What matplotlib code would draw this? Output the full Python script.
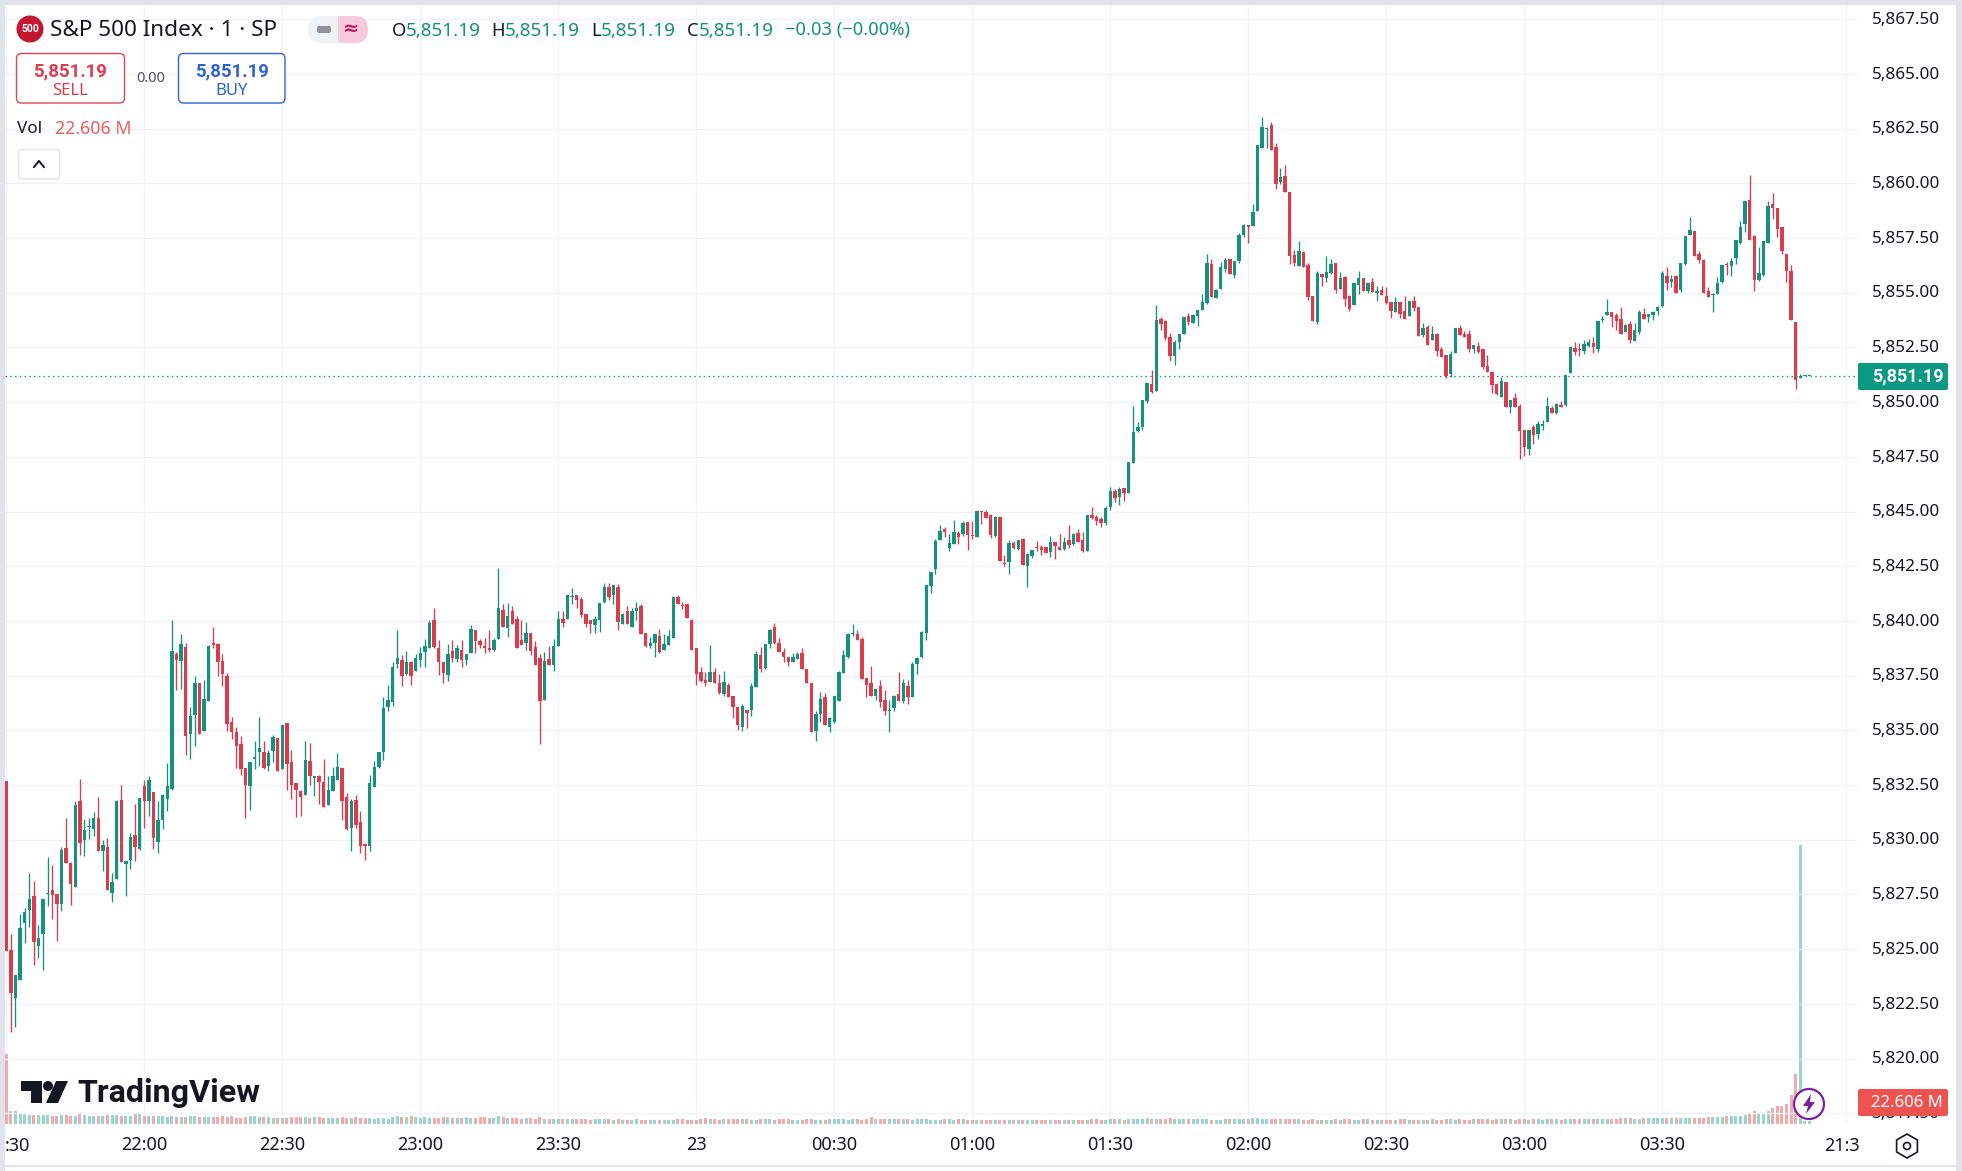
import matplotlib
matplotlib.use('Agg')
from matplotlib import pyplot as plt
from matplotlib.patches import Rectangle, FancyBboxPatch, Circle, Polygon
from matplotlib.transforms import ScaledTranslation
import numpy as np

plt.rcParams['font.family'] = ['Noto Sans', 'DejaVu Sans']

# bar values, one minute per bar from 21:30
opens = [
    5832.70, 5824.97, 5822.75, 5823.57, 5826.18, 5826.77, 5827.44, 5825.13, 5825.67, 5827.50,
    5827.72, 5827.53, 5827.05, 5829.64, 5828.92, 5827.82, 5831.78, 5829.97, 5830.56, 5830.47,
    5831.00, 5829.47, 5829.68, 5827.55, 5828.19, 5831.83, 5828.90, 5829.06, 5830.23, 5829.59,
    5832.47, 5831.78, 5832.20, 5829.91, 5830.92, 5831.88, 5832.34, 5838.51, 5838.19, 5838.83,
    5834.85, 5835.72, 5837.18, 5834.99, 5836.36, 5838.95, 5838.96, 5838.19, 5837.46, 5835.40,
    5834.90, 5834.39, 5833.30, 5832.47, 5833.71, 5834.03, 5834.03, 5833.39, 5834.07, 5834.67,
    5833.25, 5835.35, 5833.57, 5832.57, 5832.23, 5832.03, 5833.62, 5832.84, 5832.89, 5832.66,
    5831.58, 5832.22, 5832.72, 5833.30, 5831.93, 5830.55, 5831.83, 5830.83, 5829.82, 5829.69,
    5832.43, 5833.34, 5834.03, 5836.08, 5836.31, 5838.05, 5838.23, 5837.59, 5838.10, 5837.73,
    5838.23, 5838.60, 5838.74, 5840.02, 5838.74, 5838.14, 5837.55, 5838.64, 5838.28, 5838.69,
    5838.23, 5838.55, 5839.60, 5839.06, 5838.87, 5838.72, 5838.69, 5839.19, 5840.52, 5839.69,
    5840.43, 5840.11, 5839.11, 5839.01, 5839.47, 5838.83, 5838.32, 5836.40, 5838.28, 5838.00,
    5838.87, 5840.11, 5840.11, 5841.11, 5841.20, 5841.02, 5840.33, 5840.02, 5839.83, 5840.06,
    5840.85, 5841.55, 5841.17, 5841.57, 5839.88, 5840.47, 5839.74, 5840.47, 5840.66, 5839.47,
    5838.87, 5839.01, 5839.33, 5838.69, 5838.92, 5839.24, 5841.07, 5840.70, 5840.75, 5840.06,
    5838.74, 5837.68, 5837.32, 5837.23, 5837.68, 5837.18, 5836.68, 5837.09, 5836.59, 5836.08,
    5835.17, 5835.95, 5835.95, 5837.00, 5838.42, 5837.87, 5838.96, 5839.70, 5839.01, 5838.60,
    5838.37, 5838.10, 5838.28, 5838.55, 5837.78, 5837.14, 5834.99, 5835.76, 5836.54, 5835.17,
    5835.40, 5836.36, 5837.64, 5838.37, 5839.38, 5839.42, 5839.19, 5837.41, 5837.14, 5836.59,
    5837.04, 5836.40, 5835.86, 5836.04, 5836.68, 5836.36, 5837.04, 5836.50, 5838.05, 5838.37,
    5839.47, 5841.59, 5842.36, 5843.69, 5844.19, 5843.32, 5843.51, 5844.01, 5843.96, 5844.51,
    5843.92, 5843.83, 5845.02, 5844.97, 5844.83, 5843.87, 5844.74, 5842.64, 5842.68, 5843.55,
    5843.28, 5843.74, 5842.50, 5842.96, 5843.35, 5843.37, 5843.37, 5843.14, 5843.60, 5843.37,
    5843.28, 5843.69, 5843.51, 5844.01, 5843.69, 5843.19, 5844.83, 5844.74, 5844.65, 5844.47,
    5845.20, 5845.93, 5845.66, 5846.07, 5845.84, 5847.21, 5848.67, 5848.85, 5850.04, 5850.84,
    5850.52, 5853.81, 5853.72, 5852.99, 5852.12, 5852.76, 5853.12, 5853.95, 5853.63, 5853.95,
    5854.22, 5854.54, 5856.32, 5854.77, 5855.18, 5856.09, 5856.55, 5855.82, 5856.46, 5857.65,
    5858.10, 5858.06, 5858.74, 5861.62, 5862.49, 5862.68, 5861.67, 5860.07, 5860.34, 5859.61,
    5856.73, 5856.23, 5856.87, 5856.28, 5854.86, 5853.67, 5855.87, 5855.68, 5855.91, 5856.37,
    5855.18, 5855.73, 5854.86, 5854.45, 5855.36, 5855.68, 5855.09, 5855.50, 5855.00, 5855.13,
    5854.86, 5854.59, 5854.13, 5854.59, 5854.17, 5853.95, 5854.63, 5854.36, 5853.08, 5853.44,
    5852.85, 5853.12, 5852.44, 5852.16, 5851.29, 5852.25, 5853.40, 5853.12, 5853.12, 5852.44,
    5852.57, 5852.44, 5851.66, 5851.39, 5850.84, 5850.24, 5850.93, 5849.79, 5850.20, 5849.83,
    5848.74, 5847.87, 5848.87, 5848.55, 5848.92, 5849.10, 5849.74, 5849.51, 5849.88, 5849.88,
    5851.34, 5852.48, 5852.44, 5852.35, 5852.57, 5852.71, 5852.44, 5853.76, 5853.99, 5854.13,
    5853.99, 5853.81, 5853.21, 5853.58, 5852.80, 5853.21, 5854.04, 5853.90, 5853.99, 5854.17,
    5854.40, 5855.77, 5855.50, 5855.77, 5855.13, 5856.31, 5857.64, 5857.82, 5856.77, 5856.50,
    5855.08, 5854.90, 5854.94, 5855.49, 5856.31, 5856.22, 5856.59, 5857.27, 5858.14, 5859.24,
    5857.59, 5855.58, 5855.81, 5857.27, 5859.06, 5858.87, 5858.00, 5856.77, 5855.99, 5853.66,
    5851.10, 5851.19, 5851.19,
]
highs = [
    5832.70, 5825.70, 5823.83, 5826.62, 5826.89, 5828.49, 5828.13, 5826.12, 5827.30, 5829.22,
    5828.86, 5827.53, 5829.67, 5831.00, 5828.97, 5831.77, 5832.79, 5830.96, 5831.00, 5831.28,
    5831.97, 5830.00, 5830.08, 5828.49, 5831.83, 5832.52, 5829.04, 5830.32, 5831.65, 5831.92,
    5832.74, 5832.93, 5832.20, 5831.78, 5832.10, 5833.52, 5840.06, 5838.60, 5839.42, 5839.01,
    5836.08, 5837.50, 5837.18, 5837.32, 5838.92, 5839.74, 5839.01, 5838.51, 5837.64, 5835.63,
    5835.17, 5834.76, 5833.30, 5833.57, 5834.53, 5835.63, 5834.49, 5834.12, 5834.80, 5834.67,
    5835.26, 5835.35, 5834.12, 5832.57, 5832.25, 5834.49, 5834.44, 5832.93, 5832.98, 5833.71,
    5832.89, 5833.34, 5833.98, 5833.30, 5832.15, 5831.88, 5832.06, 5831.33, 5829.82, 5832.98,
    5833.62, 5834.03, 5836.54, 5837.09, 5838.14, 5839.60, 5838.42, 5838.64, 5838.19, 5838.51,
    5838.83, 5839.19, 5840.02, 5840.61, 5839.15, 5838.14, 5838.96, 5839.15, 5838.92, 5839.15,
    5838.51, 5839.83, 5839.60, 5839.19, 5839.24, 5839.60, 5839.24, 5842.40, 5840.79, 5840.84,
    5840.66, 5840.24, 5840.02, 5839.93, 5839.47, 5839.06, 5838.51, 5838.60, 5838.87, 5839.19,
    5840.43, 5840.47, 5841.20, 5841.50, 5841.20, 5841.11, 5840.33, 5840.06, 5840.24, 5840.84,
    5841.71, 5841.71, 5841.66, 5841.70, 5840.38, 5840.70, 5840.57, 5840.88, 5840.79, 5839.47,
    5839.28, 5839.38, 5839.65, 5839.38, 5839.60, 5841.07, 5841.20, 5840.88, 5840.79, 5840.11,
    5838.74, 5837.91, 5837.68, 5838.92, 5837.87, 5837.59, 5837.73, 5837.14, 5836.59, 5836.08,
    5836.18, 5835.95, 5837.14, 5838.64, 5838.83, 5838.96, 5839.65, 5839.92, 5839.24, 5838.74,
    5838.37, 5838.55, 5838.60, 5838.74, 5837.78, 5837.14, 5835.86, 5836.77, 5836.72, 5835.63,
    5836.59, 5837.73, 5838.69, 5839.47, 5839.88, 5839.60, 5839.28, 5837.41, 5837.96, 5836.91,
    5837.32, 5836.82, 5836.40, 5836.63, 5837.68, 5837.36, 5837.32, 5838.14, 5838.37, 5839.56,
    5841.61, 5842.23, 5843.74, 5844.38, 5844.28, 5843.96, 5844.60, 5844.10, 5844.56, 5844.51,
    5844.56, 5845.06, 5845.02, 5845.06, 5844.88, 5844.79, 5844.74, 5843.00, 5843.69, 5843.64,
    5843.69, 5843.78, 5843.10, 5843.23, 5843.64, 5843.46, 5843.37, 5843.87, 5843.60, 5843.96,
    5843.83, 5844.38, 5844.01, 5844.19, 5844.06, 5844.83, 5845.20, 5844.83, 5844.74, 5845.24,
    5846.11, 5846.02, 5846.11, 5846.07, 5847.25, 5849.81, 5849.08, 5850.09, 5850.87, 5851.48,
    5854.45, 5853.90, 5853.76, 5853.17, 5852.85, 5853.12, 5853.90, 5854.08, 5854.04, 5854.22,
    5854.95, 5856.78, 5856.55, 5855.18, 5856.41, 5856.60, 5856.55, 5856.46, 5857.74, 5858.15,
    5858.10, 5859.06, 5861.76, 5863.04, 5862.58, 5862.81, 5861.85, 5860.71, 5860.85, 5859.61,
    5856.96, 5857.37, 5856.92, 5856.37, 5854.86, 5856.00, 5855.87, 5856.69, 5856.55, 5856.37,
    5855.96, 5855.77, 5854.91, 5855.45, 5856.00, 5855.68, 5855.50, 5855.68, 5855.32, 5855.32,
    5855.27, 5854.59, 5854.81, 5854.59, 5854.86, 5854.63, 5854.86, 5854.36, 5853.63, 5853.53,
    5853.49, 5853.17, 5852.53, 5852.16, 5852.35, 5853.40, 5853.53, 5853.26, 5853.31, 5852.62,
    5852.76, 5852.44, 5852.16, 5851.39, 5850.88, 5851.16, 5850.93, 5850.11, 5850.43, 5849.92,
    5848.74, 5848.74, 5848.96, 5849.15, 5849.19, 5850.24, 5849.83, 5849.97, 5850.06, 5851.25,
    5852.57, 5852.76, 5852.71, 5852.85, 5852.89, 5852.99, 5853.72, 5853.95, 5854.72, 5854.13,
    5854.08, 5854.36, 5853.58, 5853.72, 5853.63, 5854.22, 5854.31, 5854.04, 5854.17, 5854.40,
    5856.00, 5856.19, 5855.82, 5855.82, 5856.37, 5857.59, 5858.46, 5857.82, 5856.91, 5856.54,
    5855.26, 5854.99, 5855.72, 5856.27, 5856.40, 5856.59, 5857.41, 5858.28, 5859.19, 5860.38,
    5857.64, 5857.09, 5857.36, 5859.19, 5859.56, 5858.87, 5858.00, 5856.77, 5856.27, 5853.66,
    5851.29, 5851.19, 5851.19,
]
lows = [
    5824.90, 5821.20, 5821.42, 5823.57, 5825.26, 5826.00, 5824.26, 5824.58, 5824.03, 5826.95,
    5826.36, 5825.39, 5826.73, 5828.92, 5827.00, 5827.82, 5829.29, 5829.24, 5830.02, 5830.18,
    5829.47, 5828.55, 5827.69, 5827.14, 5828.19, 5828.97, 5827.41, 5828.65, 5829.04, 5829.51,
    5830.55, 5831.07, 5829.56, 5829.38, 5830.50, 5831.33, 5832.29, 5836.86, 5836.91, 5833.89,
    5833.71, 5834.26, 5834.85, 5834.99, 5836.36, 5838.78, 5837.46, 5837.04, 5834.99, 5834.58,
    5833.30, 5832.98, 5831.01, 5831.38, 5833.21, 5833.39, 5833.25, 5833.16, 5833.53, 5833.16,
    5833.25, 5832.29, 5831.88, 5831.06, 5831.10, 5832.03, 5832.49, 5831.99, 5831.62, 5831.48,
    5831.58, 5832.22, 5832.72, 5830.89, 5830.46, 5829.50, 5830.55, 5829.37, 5829.05, 5829.50,
    5832.43, 5833.30, 5833.66, 5835.86, 5836.13, 5837.87, 5837.04, 5837.55, 5837.09, 5837.73,
    5837.91, 5837.91, 5838.74, 5838.78, 5837.55, 5837.18, 5837.27, 5838.14, 5838.14, 5837.91,
    5838.00, 5838.55, 5838.55, 5838.74, 5838.55, 5838.60, 5838.64, 5839.19, 5839.74, 5839.28,
    5839.88, 5838.74, 5838.92, 5838.69, 5838.42, 5838.00, 5834.39, 5836.40, 5838.00, 5837.73,
    5838.87, 5839.70, 5840.11, 5840.75, 5840.61, 5840.20, 5839.74, 5839.47, 5839.47, 5839.51,
    5840.80, 5840.97, 5840.75, 5839.60, 5839.88, 5839.88, 5839.74, 5840.06, 5839.38, 5838.83,
    5838.78, 5838.37, 5838.55, 5838.69, 5838.92, 5839.24, 5840.75, 5840.56, 5840.15, 5838.69,
    5837.09, 5837.23, 5837.04, 5837.23, 5837.14, 5836.68, 5836.59, 5836.54, 5835.54, 5835.03,
    5834.99, 5835.12, 5835.67, 5837.00, 5837.68, 5837.78, 5838.78, 5838.96, 5838.60, 5838.10,
    5837.96, 5838.10, 5838.28, 5837.78, 5837.14, 5834.94, 5834.53, 5835.40, 5835.22, 5834.90,
    5835.35, 5836.36, 5837.64, 5838.32, 5839.33, 5839.15, 5837.36, 5836.50, 5836.59, 5836.40,
    5836.08, 5835.72, 5834.94, 5835.90, 5836.36, 5836.27, 5836.22, 5836.50, 5837.59, 5838.32,
    5839.15, 5841.27, 5842.14, 5843.69, 5843.83, 5843.19, 5843.51, 5843.51, 5843.87, 5843.23,
    5843.74, 5843.83, 5844.42, 5844.70, 5843.78, 5843.83, 5842.73, 5842.50, 5842.14, 5843.28,
    5843.23, 5842.55, 5841.54, 5842.87, 5843.19, 5843.00, 5843.10, 5842.91, 5842.82, 5843.23,
    5843.23, 5843.32, 5843.46, 5843.60, 5843.14, 5843.19, 5844.65, 5844.38, 5844.28, 5844.38,
    5845.06, 5845.43, 5845.29, 5845.47, 5845.84, 5847.21, 5848.63, 5848.72, 5849.95, 5850.43,
    5850.52, 5853.31, 5852.85, 5851.89, 5851.71, 5852.44, 5853.12, 5853.53, 5853.63, 5853.49,
    5854.22, 5854.49, 5854.81, 5854.77, 5855.18, 5855.96, 5855.87, 5855.68, 5856.37, 5857.56,
    5857.28, 5858.06, 5858.74, 5861.62, 5861.62, 5861.53, 5859.75, 5859.98, 5859.61, 5856.32,
    5856.23, 5856.23, 5856.19, 5854.68, 5853.72, 5853.58, 5855.32, 5855.50, 5855.87, 5855.00,
    5855.18, 5854.40, 5854.17, 5854.45, 5854.95, 5855.09, 5855.00, 5855.04, 5854.63, 5854.91,
    5854.49, 5853.85, 5854.13, 5853.85, 5853.81, 5853.95, 5854.17, 5853.03, 5852.99, 5852.62,
    5852.85, 5852.12, 5852.07, 5851.11, 5851.16, 5852.25, 5853.08, 5852.99, 5852.30, 5852.25,
    5852.25, 5851.52, 5851.39, 5850.43, 5850.34, 5850.24, 5849.79, 5849.51, 5849.79, 5847.41,
    5847.55, 5847.59, 5848.10, 5848.32, 5848.74, 5849.10, 5849.51, 5849.47, 5849.79, 5849.83,
    5851.34, 5852.16, 5852.12, 5852.21, 5852.53, 5852.25, 5852.30, 5853.67, 5853.99, 5853.44,
    5853.31, 5853.12, 5853.21, 5852.71, 5852.80, 5853.12, 5853.81, 5853.67, 5853.76, 5853.99,
    5854.36, 5855.13, 5855.27, 5854.99, 5855.04, 5856.27, 5857.64, 5856.68, 5856.36, 5854.99,
    5854.80, 5854.12, 5854.94, 5855.44, 5855.81, 5855.76, 5856.31, 5857.23, 5857.78, 5857.41,
    5855.08, 5855.54, 5855.76, 5857.27, 5858.37, 5857.55, 5856.77, 5855.49, 5853.75, 5850.60,
    5851.10, 5851.19, 5851.19,
]
closes = [
    5824.90, 5822.98, 5823.83, 5825.98, 5826.71, 5827.30, 5825.31, 5825.52, 5827.30, 5827.52,
    5827.46, 5827.05, 5829.54, 5828.92, 5827.96, 5831.60, 5829.83, 5830.46, 5830.58, 5831.00,
    5829.47, 5829.77, 5827.69, 5828.08, 5831.78, 5828.97, 5829.04, 5830.14, 5829.68, 5831.92,
    5831.75, 5832.74, 5830.09, 5830.92, 5832.06, 5832.47, 5838.64, 5838.22, 5838.96, 5834.76,
    5835.67, 5837.18, 5834.85, 5836.45, 5838.87, 5838.92, 5838.10, 5837.59, 5835.31, 5834.94,
    5834.30, 5833.25, 5832.52, 5833.57, 5833.80, 5834.17, 5833.30, 5833.98, 5834.71, 5833.16,
    5835.26, 5833.48, 5832.52, 5832.29, 5831.97, 5833.66, 5832.90, 5832.93, 5832.63, 5831.48,
    5832.25, 5832.89, 5833.34, 5831.76, 5830.51, 5831.79, 5830.69, 5829.69, 5829.69, 5832.61,
    5833.34, 5834.03, 5836.04, 5836.40, 5837.91, 5838.32, 5837.50, 5838.10, 5837.50, 5838.32,
    5838.55, 5838.87, 5839.92, 5838.83, 5838.14, 5837.64, 5838.51, 5838.32, 5838.74, 5838.23,
    5838.51, 5839.65, 5839.06, 5838.92, 5838.78, 5838.69, 5839.15, 5840.61, 5839.74, 5840.24,
    5839.88, 5838.74, 5838.92, 5839.47, 5838.64, 5838.00, 5836.36, 5838.19, 5838.00, 5838.87,
    5840.11, 5839.92, 5841.20, 5841.16, 5840.97, 5840.29, 5839.88, 5839.88, 5840.11, 5840.84,
    5841.55, 5841.11, 5841.66, 5839.94, 5840.33, 5839.88, 5840.43, 5840.61, 5839.38, 5838.87,
    5839.01, 5839.38, 5838.60, 5838.96, 5839.33, 5841.07, 5840.75, 5840.67, 5840.15, 5838.69,
    5837.59, 5837.27, 5837.18, 5837.68, 5837.14, 5836.72, 5837.23, 5836.54, 5836.08, 5835.22,
    5836.13, 5835.81, 5837.04, 5838.51, 5837.82, 5838.96, 5839.60, 5839.01, 5838.60, 5838.37,
    5838.10, 5838.37, 5838.51, 5837.78, 5837.14, 5834.94, 5835.76, 5836.45, 5835.22, 5835.58,
    5836.59, 5837.68, 5838.46, 5839.38, 5839.42, 5839.15, 5837.36, 5837.09, 5836.59, 5836.91,
    5836.31, 5835.90, 5835.95, 5836.59, 5836.36, 5837.14, 5836.54, 5838.05, 5838.32, 5839.51,
    5841.63, 5842.23, 5843.64, 5844.10, 5844.06, 5843.55, 5844.06, 5843.83, 5844.47, 5843.92,
    5843.87, 5845.02, 5844.97, 5844.70, 5843.92, 5844.74, 5842.73, 5842.59, 5843.55, 5843.32,
    5843.69, 5842.55, 5843.05, 5843.23, 5843.31, 5843.23, 5843.10, 5843.60, 5843.42, 5843.23,
    5843.60, 5843.46, 5843.96, 5843.60, 5843.19, 5844.83, 5844.70, 5844.56, 5844.47, 5845.15,
    5845.93, 5845.61, 5846.02, 5845.84, 5847.25, 5848.63, 5848.85, 5850.09, 5850.87, 5850.47,
    5853.76, 5853.58, 5852.94, 5852.12, 5852.76, 5853.12, 5853.90, 5853.67, 5853.99, 5854.22,
    5854.59, 5856.37, 5854.81, 5855.13, 5856.19, 5856.50, 5855.87, 5856.46, 5857.65, 5858.10,
    5858.01, 5858.70, 5861.76, 5862.58, 5862.54, 5861.53, 5859.98, 5860.30, 5859.61, 5856.69,
    5856.37, 5856.92, 5856.19, 5854.81, 5853.72, 5855.91, 5855.73, 5855.96, 5856.32, 5855.13,
    5855.68, 5854.72, 5854.27, 5855.45, 5855.68, 5855.09, 5855.45, 5855.04, 5855.09, 5854.91,
    5854.54, 5854.17, 5854.59, 5854.04, 5853.81, 5854.63, 5854.31, 5853.03, 5853.40, 5852.62,
    5853.12, 5852.35, 5852.07, 5851.20, 5852.21, 5853.40, 5853.08, 5852.99, 5852.44, 5852.62,
    5852.30, 5851.61, 5851.39, 5850.79, 5850.38, 5850.98, 5849.79, 5850.11, 5849.79, 5848.69,
    5847.96, 5848.74, 5848.51, 5849.01, 5849.01, 5849.83, 5849.51, 5849.92, 5849.79, 5851.25,
    5852.53, 5852.30, 5852.39, 5852.67, 5852.76, 5852.53, 5853.72, 5853.81, 5854.13, 5853.90,
    5853.72, 5853.12, 5853.53, 5852.85, 5853.31, 5854.13, 5853.81, 5854.04, 5854.13, 5854.36,
    5855.91, 5855.45, 5855.64, 5854.99, 5856.37, 5857.59, 5857.87, 5856.68, 5856.50, 5854.99,
    5854.80, 5854.94, 5855.44, 5856.27, 5856.27, 5856.45, 5857.41, 5858.00, 5859.19, 5857.41,
    5855.58, 5855.90, 5857.36, 5858.96, 5858.87, 5857.91, 5856.91, 5855.99, 5853.75, 5851.01,
    5851.19, 5851.19, 5851.19,
]
volumes = [
    83, 16, 15, 13, 12, 11, 11, 11, 11, 11,
    10, 10, 11, 11, 10, 10, 12, 11, 10, 10,
    10, 9.5, 10.5, 11, 10.5, 9, 10, 10, 12, 12.5,
    10, 9, 10, 9, 9, 8.5, 9, 8.5, 8.5, 8,
    9, 9, 8, 8, 8, 8, 8.5, 9, 8, 9,
    7, 7, 8.5, 9, 9, 8.5, 8, 8, 7.5, 7.5,
    7, 7.5, 8, 8.5, 8, 8, 7, 8, 8, 7,
    7, 7.5, 7, 8, 7, 7, 8, 7.5, 7, 7,
    6.5, 7, 7, 6.5, 8, 9, 8, 8, 9, 8,
    7, 8, 7.5, 7, 7, 8, 8.5, 7.5, 7, 7,
    8.5, 7.5, 7.5, 8, 8, 7.5, 7, 9, 8, 7,
    7, 7, 6.5, 7, 7.5, 6.5, 8, 6.5, 6, 5.5,
    6, 5.5, 5.5, 6.5, 6, 6, 5.5, 5, 6, 5.5,
    5.5, 6, 5, 5.5, 5, 5, 5, 5.5, 5, 5,
    5, 5, 5, 5, 5, 5, 5.5, 5.5, 5, 5,
    5, 6, 7, 6, 5.5, 5, 5.5, 6, 6, 5.5,
    5.5, 5.5, 5, 5, 5.5, 6, 5.5, 5, 5.5, 6,
    5.5, 5, 5, 5, 5.5, 6, 5, 4.5, 4.5, 5.5,
    5.5, 6, 6, 5, 6.5, 5.5, 5, 6, 8, 6.5,
    6, 5.5, 6, 6, 5.5, 6, 5.5, 5, 5.5, 5.5,
    5.5, 5, 5, 5, 5.5, 5.5, 5, 5.5, 6, 5,
    5, 5, 5, 5, 5, 5, 5, 5, 5, 5,
    4.5, 5, 4.5, 4.5, 5, 4.5, 4.5, 5, 4.5, 5,
    5, 5, 5, 5, 5, 5, 5.5, 6, 5, 5,
    6, 5.5, 6, 5, 6, 6.5, 6, 6, 7, 6,
    5.5, 6, 6, 7.5, 6, 6, 5.5, 5.5, 6, 6,
    6.5, 6, 5, 5, 5, 5.5, 5.5, 5.5, 6, 6,
    6.5, 7, 7, 6.5, 6, 5.5, 5.5, 6, 5.5, 5.5,
    6, 5.5, 5, 5, 5.5, 5, 5, 5, 5, 5.5,
    5, 6, 5.5, 5, 5, 5.5, 5.5, 5, 5, 5,
    5, 5, 5, 5.5, 5.5, 5, 5, 5, 5, 5,
    5.5, 5, 5, 6.5, 6, 5, 5.5, 5, 5, 5.5,
    6, 6, 5.5, 5, 6, 6.5, 6, 6, 5, 5.5,
    5.5, 5, 5.5, 5.5, 5, 5.5, 6, 5.5, 5, 5.5,
    6, 6.5, 6, 5.5, 5.5, 6, 6.5, 6.5, 6.5, 6.5,
    6.5, 7, 7, 7, 6.5, 6.5, 7, 7, 7, 7,
    7, 7, 7, 7, 7, 7, 7, 7.5, 7.5, 7.5,
    8, 8, 8, 8.5, 9, 10, 10, 10, 11, 12,
    16, 12, 13.5, 16, 19, 22, 22, 24, 35, 60,
    332, 3.5, 3,
]

price_ticks = [5817.5, 5820, 5822.5, 5825, 5827.5, 5830, 5832.5, 5835, 5837.5, 5840, 5842.5,
               5845, 5847.5, 5850, 5852.5, 5855, 5857.5, 5860, 5862.5, 5865, 5867.5]
time_ticks = [0, 30, 60, 90, 120, 150, 180, 210, 240, 270, 300, 330, 360, 400]
time_labels = ['', '22:00', '22:30', '23:00', '23:30', '23', '00:30', '01:00', '01:30',
               '02:00', '02:30', '03:00', '03:30', '']
last_price = 5851.19

UP = '#16917E'
DOWN = '#DC3B4B'
UP_VOL = '#9AD4CC'
DOWN_VOL = '#F2ABAB'
TEAL_TEXT = '#15907C'
GRID = '#F0F3F6'
BACK = '#E0E3EB'
TEXT = '#131722'

W, H = 1962, 1171
fig = plt.figure(figsize=(W / 100, H / 100), dpi=100, facecolor='white')
rect = [5 / W, 1 - 1124 / H, (1857 - 5) / W, (1124 - 5) / H]

# volume sits under the candles on its own scale
ax_vol = fig.add_axes(rect)
ax = fig.add_axes(rect)
ax.patch.set_visible(False)

x = np.arange(len(closes))
o = np.array(opens)
h = np.array(highs)
l = np.array(lows)
c = np.array(closes)
up = c >= o
colors = [UP if u else DOWN for u in up]

xlim = ((5 - 6.3) / 4.6, (1857 - 6.3) / 4.6)
ax_vol.bar(x, volumes, width=0.68, color=[UP_VOL if u else DOWN_VOL for u in up], linewidth=0)
ax_vol.set_xlim(xlim)
ax_vol.set_ylim(0, 1331.6)
ax_vol.set_xticks(time_ticks)
ax_vol.set_xticklabels([])
ax_vol.set_yticks([])
ax_vol.grid(axis='x', color=GRID, linewidth=0.9)
ax_vol.set_axisbelow(True)
ax_vol.tick_params(length=0)
for s in ax_vol.spines.values():
    s.set_visible(False)

ax.vlines(x, l, h, colors=colors, linewidth=0.95, zorder=3)
ax.bar(x, np.maximum(np.abs(c - o), 0.05), bottom=np.minimum(o, c), width=0.72, color=colors,
       linewidth=0, zorder=4)
ax.axhline(last_price, color=UP, linewidth=0.9, linestyle=(0, (1.2, 2.6)), zorder=2)
ax.set_xlim(xlim)
ax.set_ylim(5817.007, 5868.149)
ax.set_yticks(price_ticks)
ax.set_yticklabels([f'{p:,.2f}' for p in price_ticks])
ax.set_xticks(time_ticks)
ax.set_xticklabels(time_labels)
ax.yaxis.tick_right()
ax.tick_params(axis='y', length=0, pad=10.8, labelsize=12.3, labelcolor=TEXT)
ax.tick_params(axis='x', length=0, pad=9, labelsize=13, labelcolor=TEXT)
ax.xaxis.get_ticklabels()[5].set_fontweight('bold')
ax.grid(axis='y', color=GRID, linewidth=0.9, zorder=0)
ax.set_axisbelow(True)
for s in ax.spines.values():
    s.set_visible(False)
# price labels sit a pixel above their grid lines
for t in ax.get_yticklabels():
    t.set_transform(t.get_transform() + ScaledTranslation(0, 1.3 / 100, fig.dpi_scale_trans))

# everything else is drawn in pixel coordinates on a full-figure layer
top = fig.add_axes([0, 0, 1, 1], facecolor='none')
top.set_xlim(0, W)
top.set_ylim(H, 0)
top.axis('off')


def box(x0, y0, x1, y1, **kw):
    top.add_patch(FancyBboxPatch((x0, y0), x1 - x0, y1 - y0,
                                 boxstyle='round,pad=0,rounding_size=%g' % kw.pop('r', 6), **kw))


def label(px, py, s, color=TEXT, size=13.2, ha='left', **kw):
    top.text(px, py, s, color=color, fontsize=size, ha=ha, va='center', **kw)


# frame around the widget
top.add_patch(Rectangle((0, 0), W, 5, color=BACK, linewidth=0, zorder=10))
top.add_patch(Rectangle((0, 0), 5, H, color=BACK, linewidth=0, zorder=10))
top.add_patch(Rectangle((1956, 0), 6, H, color=BACK, linewidth=0, zorder=10))
top.add_patch(Rectangle((0, 1165), W, 2, color=BACK, linewidth=0, zorder=10))

# the two time labels cut by the chart edges
label(5, 1146, ':30', size=13)
label(1824, 1146, '21:3', size=13)

# symbol row
top.add_patch(Circle((30, 29), 13.5, color='#C5162F', linewidth=0))
label(30, 29.5, '500', color='white', size=7.5, ha='center', family='Roboto', fontweight='bold')
label(50, 30.5, 'S&P 500 Index · 1 · SP', size=16.2)
box(308, 16, 368, 43, r=13, facecolor='#F0F3F6', edgecolor='none')
top.add_patch(Rectangle((338, 16), 18, 27, color='#F7CBDD', linewidth=0))
box(342, 16, 368, 43, r=13, facecolor='#F7CBDD', edgecolor='none')
box(317, 26, 331, 33, r=2, facecolor='#8E929C', edgecolor='none')
label(351, 29, '≈', color='#C2185B', size=14, ha='center', fontweight='bold')

label(392, 30.5, 'O')
label(406, 30.5, '5,851.19', color=TEAL_TEXT, size=13.6)
label(491, 30.5, 'H')
label(505, 30.5, '5,851.19', color=TEAL_TEXT, size=13.6)
label(591, 30.5, 'L')
label(601, 30.5, '5,851.19', color=TEAL_TEXT, size=13.6)
label(687, 30.5, 'C')
label(699, 30.5, '5,851.19', color=TEAL_TEXT, size=13.6)
label(785, 30.5, '−0.03 (−0.00%)', color=TEAL_TEXT)

# sell and buy buttons
box(16.5, 53.5, 124.5, 103, r=5, facecolor='white', edgecolor='#E04555', linewidth=1)
label(70, 71, '5,851.19', color='#DE3B4C', size=13.4, ha='center', family='Roboto', fontweight='bold')
label(70, 91, 'SELL', color='#DE3B4C', size=12, ha='center')
label(151, 78, '0.00', color='#50535E', size=10.5, ha='center')
box(178.5, 53.5, 285, 103, r=5, facecolor='white', edgecolor='#2E62D9', linewidth=1)
label(232, 71, '5,851.19', color='#2E62D9', size=13.4, ha='center', family='Roboto', fontweight='bold')
label(232, 91, 'BUY', color='#2E62D9', size=12, ha='center')

label(17, 129, 'Vol', size=12.3)
label(55, 129, '22.606 M', color='#E5605D', size=12.8)
box(18.5, 149.5, 59.5, 179, r=3, facecolor='white', edgecolor='#E0E3EB', linewidth=1)
top.plot([34, 39, 44], [167, 161, 167], color=TEXT, linewidth=1.4)

# price tags on the axis
box(1858, 363, 1948, 390, r=2, facecolor='#0B9981', edgecolor='none', zorder=6)
label(1872, 376.5, '5,851.19', color='white', size=13, family='Roboto', fontweight='bold', zorder=7)
box(1858, 1089, 1948, 1116, r=2, facecolor='#EF5350', edgecolor='none', zorder=6)
label(1871, 1103, '22.606 M', color='white', size=12, zorder=7)

# TradingView logo
top.add_patch(Polygon([(21, 1081), (42, 1081), (42, 1103), (31, 1103), (31, 1091), (21, 1091)],
                      color=TEXT, linewidth=0))
top.add_patch(Circle((48, 1086), 5, color=TEXT, linewidth=0))
top.add_patch(Polygon([(56, 1081), (68, 1081), (58, 1103), (46, 1103)], color=TEXT, linewidth=0))
label(77, 1093.5, 'TradingView', size=23.2, family='Roboto', fontweight='bold')

# replay button over the last volume bars
top.add_patch(Circle((1809, 1104), 15, facecolor='white', edgecolor='#7B1FA2', linewidth=1.6, zorder=6))
top.add_patch(Polygon([(1811, 1094), (1803, 1106), (1808, 1106), (1806, 1114), (1815, 1102), (1810, 1102)],
                      color='#7B1FA2', linewidth=0, zorder=7))

# settings gear
a = np.deg2rad(np.arange(30, 390, 60))
top.add_patch(Polygon(np.column_stack([1907 + 12 * np.cos(a), 1146 + 12 * np.sin(a)]),
                      facecolor='white', edgecolor=TEXT, linewidth=1.2))
top.add_patch(Circle((1907, 1146), 3.5, facecolor='white', edgecolor=TEXT, linewidth=1.2))

fig.savefig('out.png', dpi=100, facecolor='white')
